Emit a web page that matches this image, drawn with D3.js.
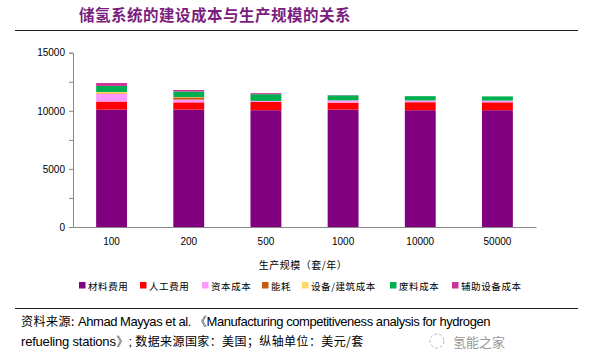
<!DOCTYPE html>
<html>
<head>
<meta charset="utf-8">
<script src="https://cdn.jsdelivr.net/npm/d3@7"></script>
<style>
  body { margin: 0; background: #fff; }
  svg { display: block; }
</style>
</head>
<body>
<div id="chart"></div>
<script>
// categories (production scale, sets per year)
const scales = ["100", "200", "500", "1000", "10000", "50000"];
// cost components, USD per set
const material  = [10100, 10100, 10050, 10100, 10050, 10050];
const labor     = [700, 630, 710, 600, 690, 680];
const capital   = [650, 230, 90, 200, 150, 150];
const energy    = [50, 200, 0, 0, 0, 0];
const equipment = [120, 30, 0, 0, 0, 0];
const scrap     = [520, 470, 580, 430, 370, 360];
const auxiliary = [250, 130, 90, 20, 0, 0];

const seriesNames = ["材料费用", "人工费用", "资本成本", "能耗", "设备/建筑成本", "废料成本", "辅助设备成本"];
const seriesColors = ["#800080", "#ff0000", "#ff99ff", "#c55a11", "#ffd966", "#00b050", "#cc3399"];
const yTicks = [0, 5000, 10000, 15000];

const width = 592, height = 363;
const m = {top: 52.7, left: 73, right: 56, bottom: 136};

const svg = d3.select("#chart").append("svg")
  .attr("width", width)
  .attr("height", height);

// build rows for the stack
const seriesData = [material, labor, capital, energy, equipment, scrap, auxiliary];
const rows = scales.map((s, i) => {
  const r = {scale: s};
  seriesNames.forEach((n, j) => { r[n] = seriesData[j][i]; });
  return r;
});
const stacked = d3.stack().keys(seriesNames)(rows);

const x = d3.scaleBand()
  .domain(scales)
  .range([m.left, width - m.right])
  .paddingInner(0.6)
  .paddingOuter(0.3);

const y = d3.scaleLinear()
  .domain([0, 15000])
  .range([height - m.bottom, m.top]);

// title
svg.append("text")
  .attr("x", 215)
  .attr("y", 21)
  .attr("text-anchor", "middle")
  .style("font-family", "'Noto Sans CJK SC'")
  .style("font-weight", "bold")
  .style("font-size", "15.5px")
  .style("letter-spacing", "0.5px")
  .attr("fill", "#7a1e7e")
  .text("储氢系统的建设成本与生产规模的关系");

svg.append("line")
  .attr("x1", 15).attr("x2", 578)
  .attr("y1", 30.5).attr("y2", 30.5)
  .attr("stroke", "#222").attr("stroke-width", 1);

// bars
svg.append("g")
  .selectAll("g")
  .data(stacked)
  .join("g")
    .attr("fill", (d, i) => seriesColors[i])
  .selectAll("rect")
  .data(d => d)
  .join("rect")
    .attr("x", d => x(d.data.scale))
    .attr("y", d => y(d[1]))
    .attr("width", x.bandwidth())
    .attr("height", d => y(d[0]) - y(d[1]));

// y axis
const yAxis = svg.append("g")
  .attr("transform", `translate(${m.left},0)`)
  .call(d3.axisLeft(y).tickValues(d3.range(0, 15001, 2500)).tickSize(4)
    .tickFormat(d => yTicks.includes(d) ? d : ""));
yAxis.select(".domain").attr("stroke", "#888");
yAxis.selectAll(".tick line").attr("stroke", "#888");
yAxis.selectAll("text")
  .attr("x", -8)
  .style("font-family", "'Liberation Sans', Arial")
  .style("font-size", "10px")
  .attr("fill", "#000");

// x axis
const xAxis = svg.append("g")
  .attr("transform", `translate(0,${height - m.bottom})`)
  .call(d3.axisBottom(x).tickSize(0).tickPadding(11));
xAxis.select(".domain").attr("stroke", "#888");
xAxis.selectAll("text")
  .style("font-family", "'Liberation Sans', Arial")
  .style("font-size", "10px")
  .attr("fill", "#000");

// x axis title
svg.append("text")
  .attr("x", 303)
  .attr("y", 269)
  .attr("text-anchor", "middle")
  .style("font-family", "'Noto Sans CJK SC'")
  .style("font-size", "10px")
  .style("letter-spacing", "0.5px")
  .attr("fill", "#000")
  .text("生产规模（套/年）");

// legend
const legendX = [79, 140, 202, 262, 302, 390, 452];
const legend = svg.append("g")
  .selectAll("g")
  .data(seriesNames)
  .join("g")
    .attr("transform", (d, i) => `translate(${legendX[i]},282)`);
legend.append("rect")
  .attr("width", 6.5).attr("height", 6.5)
  .attr("fill", (d, i) => seriesColors[i]);
legend.append("text")
  .attr("x", 9).attr("y", 7.5)
  .style("font-family", "'Noto Sans CJK SC'")
  .style("font-size", "9.5px")
  .style("letter-spacing", "0.6px")
  .attr("fill", "#000")
  .text(d => d);

// source note
svg.append("line")
  .attr("x1", 15).attr("x2", 578)
  .attr("y1", 308.5).attr("y2", 308.5)
  .attr("stroke", "#222").attr("stroke-width", 1);

const src1 = svg.append("text")
  .attr("x", 21).attr("y", 326)
  .attr("fill", "#000");
src1.append("tspan").style("font-family", "'Noto Sans CJK SC'").style("font-size", "12px")
  .attr("letter-spacing", "0.5px").text("资料来源:");
src1.append("tspan").style("font-family", "'Liberation Sans', Arial").style("font-size", "13px")
  .attr("letter-spacing", "-0.45px")
  .text(" Ahmad Mayyas et al. 《Manufacturing competitiveness analysis for hydrogen");

const src2 = svg.append("text")
  .attr("x", 21).attr("y", 346)
  .attr("fill", "#000");
src2.append("tspan").style("font-family", "'Liberation Sans', Arial").style("font-size", "13px")
  .attr("letter-spacing", "-0.2px")
  .text("refueling stations》; ");
src2.append("tspan").style("font-family", "'Noto Sans CJK SC'").style("font-size", "12px")
  .attr("letter-spacing", "0.4px")
  .text("数据来源国家：美国；纵轴单位：美元/套");

// watermark
svg.append("circle")
  .attr("cx", 437).attr("cy", 341).attr("r", 7)
  .attr("fill", "none").attr("stroke", "#bbb").attr("stroke-width", 1)
  .attr("stroke-dasharray", "3,2");
svg.append("text")
  .attr("x", 453).attr("y", 347)
  .style("font-family", "'Noto Sans CJK SC'")
  .style("font-size", "13px")
  .attr("fill", "#999")
  .text("氢能之家");
</script>
</body>
</html>
